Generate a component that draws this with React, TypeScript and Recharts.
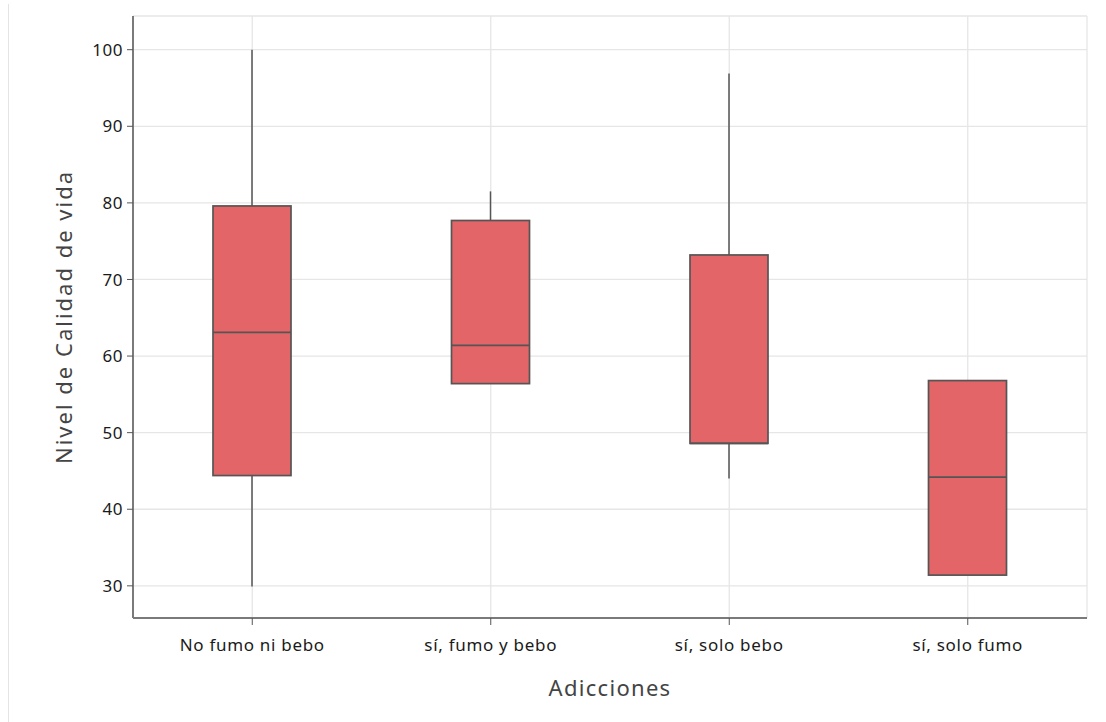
import { ComposedChart, Bar, XAxis, YAxis, CartesianGrid } from "recharts"

const categories = ["No fumo ni bebo", "sí, fumo y bebo", "sí, solo bebo", "sí, solo fumo"]
const whiskerLow = [29.9, 56.4, 44.0, 31.4]
const q1 = [44.4, 56.4, 48.6, 31.4]
const median = [63.1, 61.4, 48.6, 44.2]
const q3 = [79.6, 77.7, 73.2, 56.8]
const whiskerHigh = [100, 81.5, 96.9, 56.8]
const yTicks = [30, 40, 50, 60, 70, 80, 90, 100]

const data = categories.map((name, i) => ({
  name,
  lo: whiskerLow[i],
  q1: q1[i],
  med: median[i],
  q3: q3[i],
  hi: whiskerHigh[i],
  range: [Math.min(whiskerLow[i], q1[i]), Math.max(whiskerHigh[i], q3[i])],
}))

const FONT = "'Noto Sans', 'Open Sans', sans-serif"
const EDGE = "#555555"
const FRAME = "#7a7a7a"

function BoxShape(props: any) {
  const { x, y, width, height, payload } = props
  const top = Math.min(y, y + height)
  const h = Math.abs(height)
  const lo = payload.range[0]
  const hi = payload.range[1]
  const k = hi > lo ? h / (hi - lo) : 0
  const py = (v: number) => top + (hi - v) * k
  const cx = x + width / 2
  return (
    <g>
      <line x1={cx} x2={cx} y1={py(payload.hi)} y2={py(payload.q3)} stroke={EDGE} strokeWidth={1.5} />
      <line x1={cx} x2={cx} y1={py(payload.q1)} y2={py(payload.lo)} stroke={EDGE} strokeWidth={1.5} />
      <rect x={x} y={py(payload.q3)} width={width} height={py(payload.q1) - py(payload.q3)} fill="#E36567" stroke={EDGE} strokeWidth={1.7} />
      <line x1={x} x2={x + width} y1={py(payload.med)} y2={py(payload.med)} stroke={EDGE} strokeWidth={1.7} />
    </g>
  )
}

export default function App() {
  return (
    <div style={{ position: "absolute", left: 0, top: 0, width: 1106, height: 722, background: "#fff", fontFamily: FONT }}>
      <div style={{ position: "absolute", left: 8, top: 4, width: 0, height: 718, borderLeft: "1.5px solid #e4e4e4" }} />
      <ComposedChart
        width={1106}
        height={722}
        data={data}
        margin={{ top: 16, right: 19, left: 0, bottom: 0 }}
        style={{ position: "absolute", left: 0, top: 0 }}
      >
        <CartesianGrid stroke="#e6e6e6" strokeWidth={1.3} />
        <XAxis
          dataKey="name"
          height={104}
          tickLine={{ stroke: EDGE }}
          tickSize={7}
          axisLine={{ stroke: FRAME, strokeWidth: 2 }}
          tick={{ fill: "#1a1a1a", fontSize: 17, fontFamily: FONT, letterSpacing: 0.7 }}
          tickMargin={14}
          label={{ value: "Adicciones", position: "insideBottom", offset: 26, fill: "#444", fontSize: 22, fontFamily: FONT, letterSpacing: 1.3 }}
        />
        <XAxis xAxisId="top" dataKey="name" orientation="top" height={0} tick={false} tickLine={false} axisLine={{ stroke: FRAME, strokeWidth: 2 }} />
        <YAxis
          width={133}
          domain={[25.8, 104.4]}
          ticks={yTicks}
          allowDataOverflow
          tickLine={{ stroke: EDGE }}
          tickSize={6}
          axisLine={{ stroke: FRAME, strokeWidth: 2 }}
          tick={{ fill: "#1a1a1a", fontSize: 17, fontFamily: FONT, letterSpacing: 0.5 }}
          tickMargin={4}
          label={{ value: "Nivel de Calidad de vida", angle: -90, position: "insideLeft", offset: 64, style: { textAnchor: "middle", letterSpacing: 2 }, fill: "#444", fontSize: 22, fontFamily: FONT }}
        />
        <YAxis yAxisId="right" orientation="right" width={0} tick={false} tickLine={false} axisLine={{ stroke: FRAME, strokeWidth: 2 }} />
        <Bar dataKey="range" barSize={78} shape={<BoxShape />} isAnimationActive={false} />
      </ComposedChart>
    </div>
  )
}
